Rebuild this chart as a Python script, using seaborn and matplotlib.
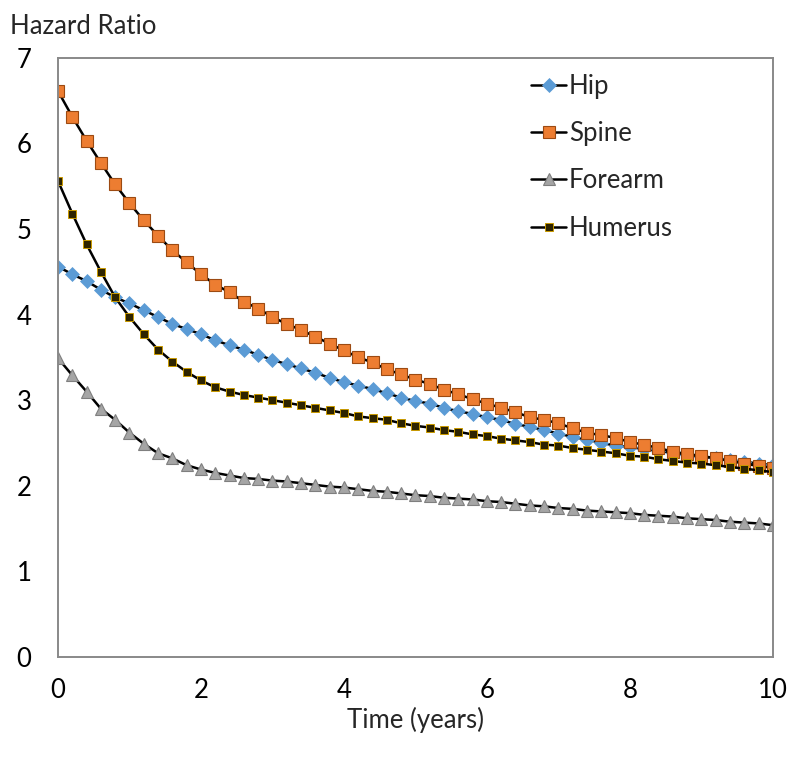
import numpy as np
import pandas as pd
import matplotlib
matplotlib.use('Agg')
import matplotlib.pyplot as plt
import seaborn as sns

# ── Data ──────────────────────────────────────────────
years = np.round(np.arange(0, 10.01, 0.2), 1)

hip = [4.56, 4.47, 4.39, 4.29, 4.20, 4.13, 4.05, 3.97, 3.89, 3.83,
       3.77, 3.70, 3.64, 3.59, 3.53, 3.47, 3.42, 3.37, 3.32, 3.26,
       3.21, 3.17, 3.13, 3.08, 3.03, 2.99, 2.96, 2.91, 2.87, 2.84,
       2.80, 2.77, 2.72, 2.69, 2.65, 2.61, 2.57, 2.54, 2.50, 2.47,
       2.45, 2.43, 2.41, 2.38, 2.36, 2.34, 2.32, 2.30, 2.28, 2.26,
       2.24]

spine = [6.61, 6.31, 6.03, 5.77, 5.52, 5.30, 5.10, 4.92, 4.75, 4.61,
         4.47, 4.35, 4.26, 4.15, 4.07, 3.97, 3.89, 3.82, 3.74, 3.66,
         3.58, 3.50, 3.44, 3.36, 3.30, 3.24, 3.19, 3.12, 3.07, 3.01,
         2.96, 2.91, 2.86, 2.80, 2.77, 2.73, 2.67, 2.62, 2.59, 2.56,
         2.51, 2.48, 2.44, 2.40, 2.37, 2.35, 2.32, 2.29, 2.26, 2.23,
         2.21]

forearm = [3.49, 3.29, 3.10, 2.90, 2.77, 2.62, 2.49, 2.38, 2.32, 2.24,
           2.19, 2.15, 2.12, 2.09, 2.08, 2.06, 2.05, 2.03, 2.01, 1.99,
           1.98, 1.96, 1.94, 1.93, 1.91, 1.89, 1.88, 1.86, 1.85, 1.84,
           1.82, 1.81, 1.79, 1.77, 1.76, 1.74, 1.73, 1.71, 1.70, 1.69,
           1.68, 1.66, 1.65, 1.64, 1.62, 1.61, 1.60, 1.58, 1.57, 1.56,
           1.54]

humerus = [5.56, 5.18, 4.82, 4.50, 4.20, 3.97, 3.77, 3.59, 3.45, 3.33,
           3.23, 3.15, 3.10, 3.06, 3.03, 3.00, 2.97, 2.94, 2.91, 2.88,
           2.85, 2.81, 2.79, 2.77, 2.73, 2.70, 2.68, 2.65, 2.63, 2.60,
           2.58, 2.55, 2.53, 2.51, 2.48, 2.47, 2.44, 2.42, 2.40, 2.38,
           2.35, 2.34, 2.31, 2.29, 2.27, 2.26, 2.24, 2.22, 2.20, 2.18,
           2.16]

x_ticks = [0, 2, 4, 6, 8, 10]
y_ticks = [0, 1, 2, 3, 4, 5, 6, 7]

# ── Style ─────────────────────────────────────────────
sns.set_style('white')
plt.rcParams['font.family'] = ['Lato', 'DejaVu Sans']
fs = 18.5

fig = plt.figure(figsize=(8, 7.66), dpi=100)
ax = fig.add_axes([0.0725, 0.1423, 0.8935, 0.7824])

series = [
    ('Hip', hip, dict(marker='D', markersize=7, markerfacecolor='#5B9BD5',
                      markeredgecolor='#5B9BD5', markeredgewidth=0.5)),
    ('Spine', spine, dict(marker='s', markersize=9, markerfacecolor='#ED7D31',
                          markeredgecolor='#9C4A12', markeredgewidth=0.8)),
    ('Forearm', forearm, dict(marker='^', markersize=9, markerfacecolor='#A5A5A5',
                              markeredgecolor='#7F7F7F', markeredgewidth=0.8)),
    ('Humerus', humerus, dict(marker='s', markersize=5.5, markerfacecolor='#2E2400',
                              markeredgecolor='#C99A00', markeredgewidth=0.7)),
]

for name, vals, mk in series:
    sns.lineplot(x=years, y=vals, color='black', linewidth=1.8,
                 label=name, ax=ax, **mk)

# ── Axes ──────────────────────────────────────────────
ax.set_xlim(0, 10)
ax.set_ylim(0, 7)
ax.set_xticks(x_ticks)
ax.set_yticks(y_ticks)
ax.tick_params(axis='both', direction='in', length=7, width=1.2,
               color='#898989', labelsize=fs, labelcolor='black')
ax.tick_params(axis='y', pad=19)
ax.tick_params(axis='x', pad=15)
for sp in ax.spines.values():
    sp.set_color('#898989')
    sp.set_linewidth(1.4)

ax.set_xlabel('Time (years)', fontsize=fs, labelpad=3)
ax.set_ylabel('')
fig.text(0.012, 0.965, 'Hazard Ratio', fontsize=fs, ha='left', va='center')

leg = ax.legend(loc='upper left', bbox_to_anchor=(0.63, 1.012), frameon=False,
                fontsize=fs, handlelength=1.35, handletextpad=0.1,
                labelspacing=0.87)

plt.savefig('out.png', dpi=100)
